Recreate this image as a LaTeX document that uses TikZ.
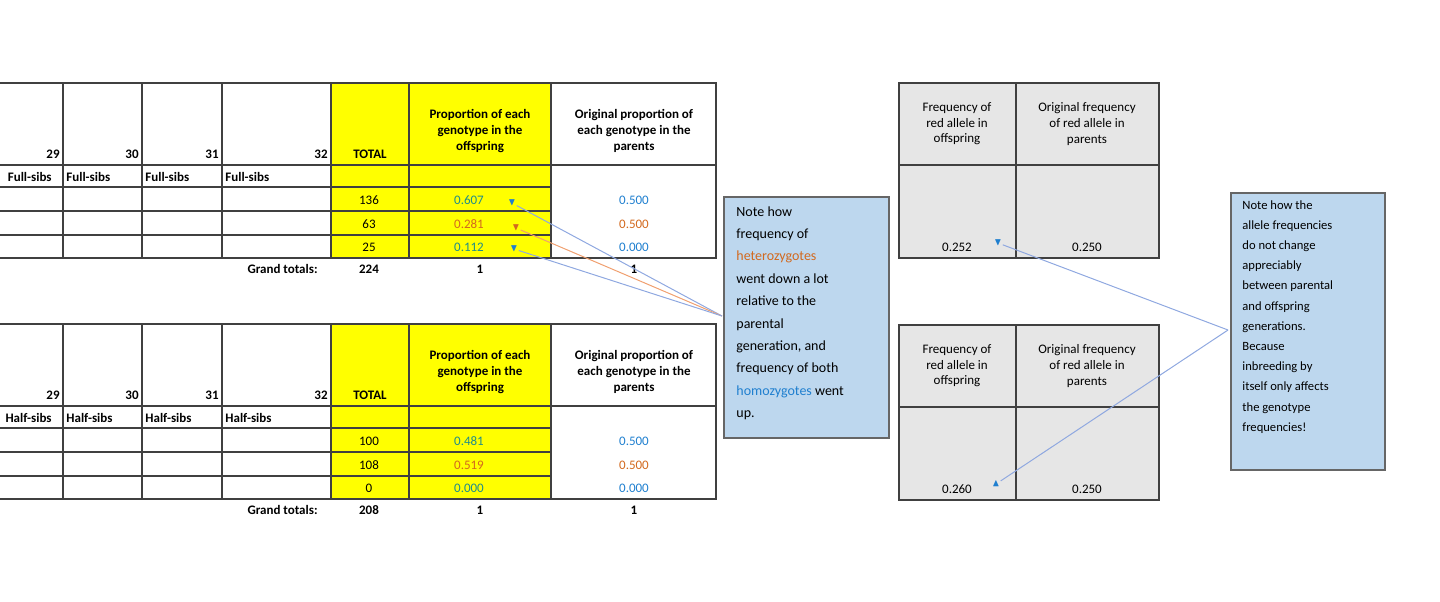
\documentclass[tikz,border=0pt]{standalone}
\usepackage{amssymb}
\usepackage{fontspec}
\setmainfont{Carlito}
\usetikzlibrary{arrows.meta}
\definecolor{cyel}{HTML}{FFFF00}
\definecolor{cgrey}{HTML}{E6E6E6}
\definecolor{cnote}{HTML}{BDD7EE}
\definecolor{cblue}{HTML}{1F7FCF}
\definecolor{cgreen}{HTML}{1E8C8C}
\definecolor{corange}{HTML}{D2691E}
\definecolor{cline}{HTML}{8FA8E0}
\definecolor{corl}{HTML}{F0A070}
\tikzset{
  grid/.style={draw=black!75,line width=0.7pt},
  tx/.style={inner sep=0pt,font=\fontsize{6.5}{7.8}\selectfont},
  bt/.style={tx,font=\fontsize{6.5}{7.8}\selectfont\bfseries},
  notebox/.style={draw=black!60,fill=cnote,line width=0.6pt},
  conn/.style={cline,line width=0.5pt},
  tri/.style={inner sep=0pt,font=\fontsize{5}{5}\selectfont},
}
\begin{document}
\begin{tikzpicture}[x=0.5pt,y=-0.5pt]
\useasboundingbox (0,0) rectangle (1440,601);
% two genotype tables
\foreach \dy/\lab/\a/\b/\c/\pa/\pb/\pc/\gt [count=\k] in {0/Full-sibs/136/63/25/0.607/0.281/0.112/224, 241/Half-sibs/100/108/0/0.481/0.519/0.000/208}{
  \begin{scope}[yshift=-\dy*0.5pt]
  \fill[cyel] (331,83) rectangle (551,258);
  \draw[grid] (-5,83) -- (716,83) -- (716,258) -- (-5,258);
  \draw[grid] (-5,165) -- (716,165);
  \foreach \y in {187,211,235}{\draw[grid] (-5,\y) -- (551,\y);}
  \foreach \x in {63,142,222,331,409,551}{\draw[grid] (\x,83) -- (\x,258);}
  \node[bt,anchor=base east] (n29\k) at (60,158) {29};
  \node[bt,anchor=base east] (n30\k) at (139,158) {30};
  \node[bt,anchor=base east] (n31\k) at (219,158) {31};
  \node[bt,anchor=base east] (n32\k) at (328,158) {32};
  \node[bt,anchor=base] (tot\k) at (370,158) {TOTAL};
  \node[bt,align=center] (prop\k) at (480,131) {Proportion of each\\genotype in the\\offspring};
  \node[bt,align=center] (orig\k) at (634,131) {Original proportion of\\each genotype in the\\parents};
  \node[bt,anchor=base east] (l0\k) at (52,181) {\lab};
  \node[bt,anchor=base west] (l1\k) at (66,181) {\lab};
  \node[bt,anchor=base west] (l2\k) at (145,181) {\lab};
  \node[bt,anchor=base west] (l3\k) at (225,181) {\lab};
  \node[tx] (ta\k) at (369,200) {\a};
  \node[tx] (tb\k) at (369,224) {\b};
  \node[tx] (tc\k) at (369,247) {\c};
  \node[tx,text=cgreen] (pa\k) at (469,200) {\pa};
  \node[tx,text=corange] (pb\k) at (469,224) {\pb};
  \node[tx,text=cgreen] (pc\k) at (469,247) {\pc};
  \node[tx,text=cblue] (oa\k) at (634,200) {0.500};
  \node[tx,text=corange] (ob\k) at (634,224) {0.500};
  \node[tx,text=cblue] (oc\k) at (634,247) {0.000};
  \node[bt,anchor=base east] (gl\k) at (318,273) {Grand totals:};
  \node[bt,anchor=base] (gt\k) at (369,273) {\gt};
  \node[bt,anchor=base] (g1\k) at (480,273) {1};
  \node[bt,anchor=base] (g2\k) at (634,273) {1};
  \end{scope}
}
% allele tables
\foreach \dy/\v [count=\k] in {0/0.252, 242/0.260}{
  \begin{scope}[yshift=-\dy*0.5pt]
  \fill[cgrey] (899,83) rectangle (1159,258);
  \draw[grid] (899,83) rectangle (1159,258);
  \draw[grid] (1016,83) -- (1016,258);
  \draw[grid] (899,165) -- (1159,165);
  \node[tx,align=center] (fa\k) at (957,124) {Frequency of\\red allele in\\offspring};
  \node[tx,align=center] (fb\k) at (1087,124) {Original frequency\\of red allele in\\parents};
  \node[tx] (va\k) at (957,247) {\v};
  \node[tx] (vb\k) at (1087,247) {0.250};
  \end{scope}
}
% triangles markers
\node[tri,text=cblue] (m1) at (512,203) {$\blacktriangledown$};
\node[tri,text=corange] (m2) at (516,228) {$\blacktriangledown$};
\node[tri,text=cblue] (m3) at (514,249) {$\blacktriangledown$};
\node[tri,text=cblue] (m4) at (998,243) {$\blacktriangledown$};
\node[tri,text=cblue] (m5) at (996,484) {$\blacktriangle$};
% notes
\draw[notebox] (724,197) rectangle (889,438);
\node[tx,anchor=north west,align=left,font=\fontsize{7}{11.2}\selectfont] (note1) at (736,206) {Note how\\frequency of\\\textcolor{corange}{heterozygotes}\\went down a lot\\relative to the\\parental\\generation, and\\frequency of both\\\textcolor{cblue}{homozygotes} went\\up.};
\draw[notebox] (1231,193) rectangle (1385,470);
\node[tx,anchor=north west,align=left,font=\fontsize{6.3}{10.1}\selectfont] (note2) at (1242,200) {Note how the\\allele frequencies\\do not change\\appreciably\\between parental\\and offspring\\generations.\\Because\\inbreeding by\\itself only affects\\the genotype\\frequencies!};
\coordinate (c1) at (722,316);
\coordinate (c2) at (1228,330);
\draw[conn] (c1) -- (m1);
\draw[conn,corl] (c1) -- (m2);
\draw[conn] (c1) -- (m3);
\draw[conn] (c2) -- (m4);
\draw[conn] (c2) -- (m5);
\end{tikzpicture}
\end{document}
